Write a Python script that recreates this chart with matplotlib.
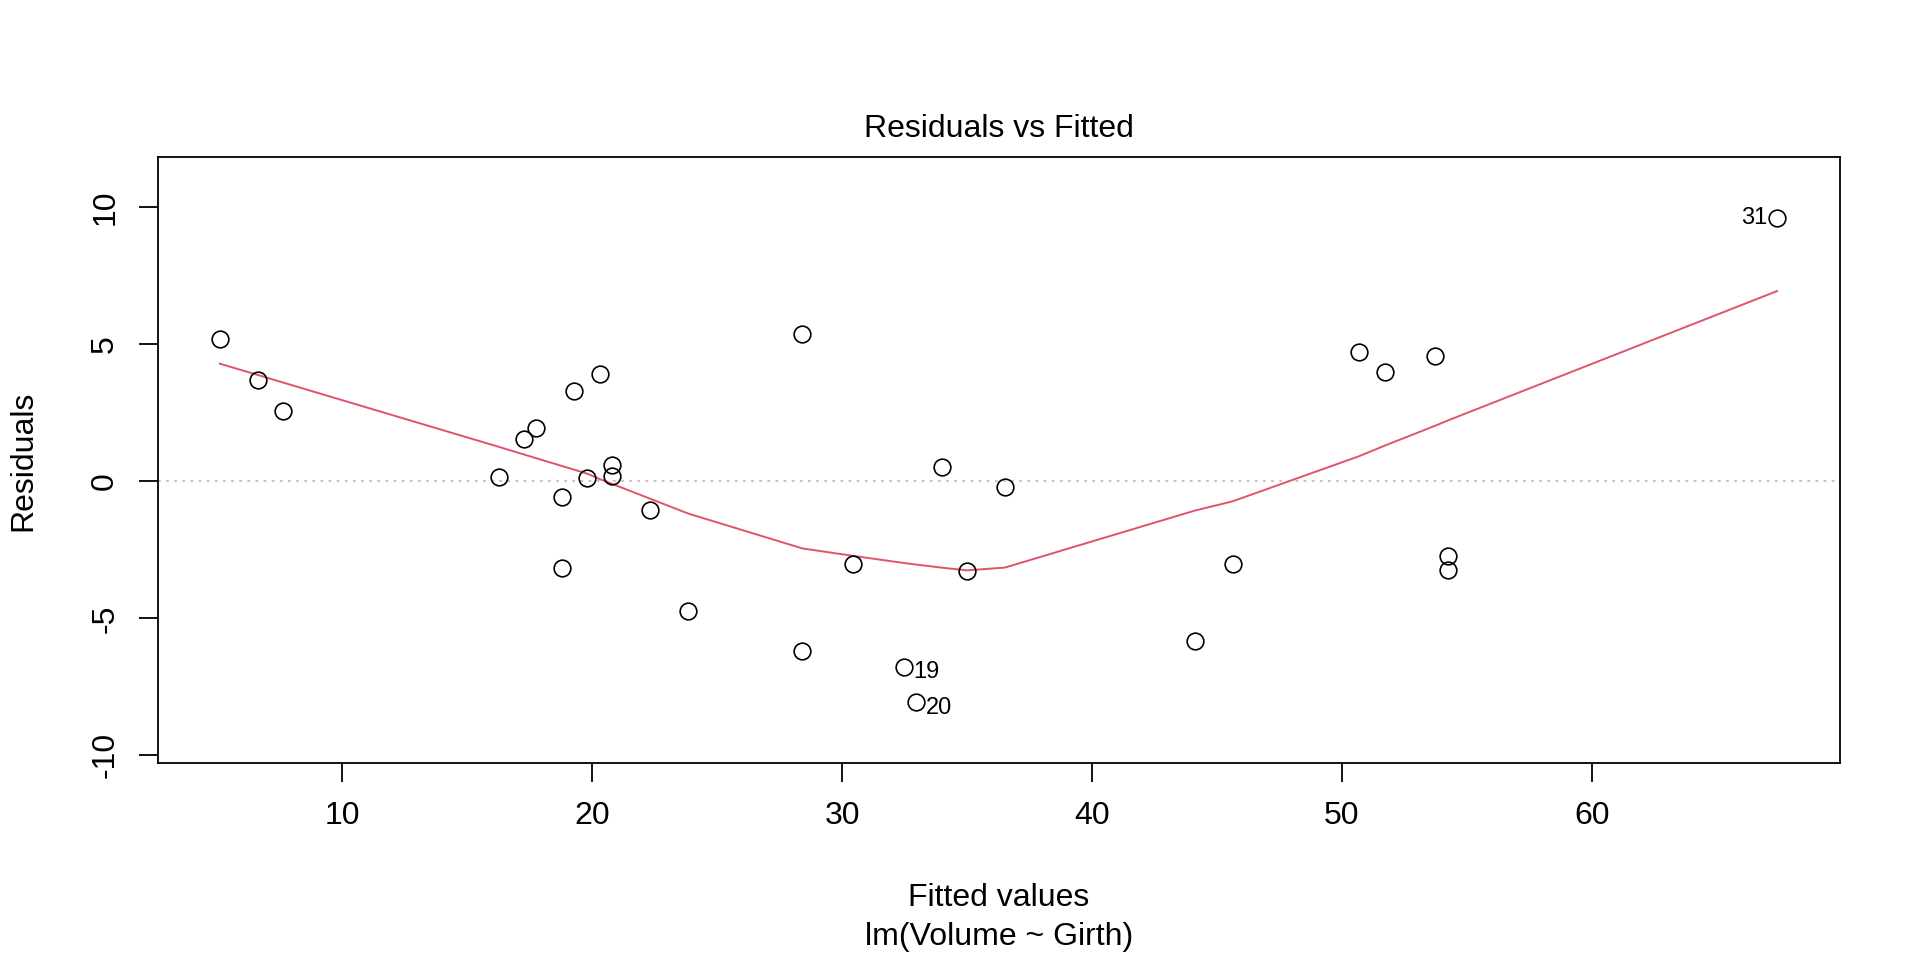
import numpy as np
import matplotlib
matplotlib.use("Agg")
import matplotlib.pyplot as plt

plt.rcParams['font.family'] = ['Liberation Sans', 'DejaVu Sans']

# lm(Volume ~ Girth) on trees: fitted values and residuals, in observation order
fitted = [5.10, 6.62, 7.64, 16.25, 17.26, 17.77, 18.78, 18.78, 19.29, 19.79,
          20.30, 20.81, 20.81, 22.33, 23.85, 28.41, 28.41, 30.43, 32.46, 32.97,
          33.98, 34.99, 36.51, 44.11, 45.63, 50.70, 51.71, 53.74, 54.24, 54.24,
          67.41]
resid = [5.20, 3.68, 2.56, 0.15, 1.54, 1.93, -3.18, -0.58, 3.31, 0.11,
         3.90, 0.19, 0.59, -1.03, -4.75, -6.21, 5.39, -3.03, -6.76, -8.07,
         0.52, -3.29, -0.21, -5.81, -3.03, 4.70, 3.99, 4.56, -2.74, -3.24,
         9.59]
labelled = [19, 20, 31]   # 1-based observation numbers

# smoother line
smooth_x = [5.10, 6.62, 7.64, 16.25, 17.26, 17.77, 18.78, 19.29, 19.79, 20.30,
            20.81, 22.33, 23.85, 28.41, 30.43, 32.46, 32.97, 33.98, 34.99, 36.51,
            44.11, 45.63, 50.70, 51.71, 53.74, 54.24, 67.41]
smooth_y = [4.29, 3.88, 3.60, 1.26, 0.98, 0.84, 0.56, 0.42, 0.28, 0.08,
            -0.10, -0.64, -1.18, -2.45, -2.72, -2.98, -3.04, -3.15, -3.25, -3.15,
            -1.07, -0.73, 0.92, 1.30, 2.03, 2.22, 6.94]

xticks = [10, 20, 30, 40, 50, 60]
yticks = [-10, -5, 0, 5, 10]

fig = plt.figure(figsize=(19.2, 9.6), dpi=100)
ax = fig.add_axes([0.0821, 0.2049, 0.8761, 0.6312])

ax.axhline(0, color='#BEBEBE', linestyle=(0, (1.5, 3)), linewidth=1.3, zorder=1)
ax.plot(smooth_x, smooth_y, color='#DF536B', linewidth=1.4, zorder=2)
ax.plot(fitted, resid, 'o', markerfacecolor='none', markeredgecolor='black',
        markersize=12, markeredgewidth=1.2, zorder=3)

xmid = 0.5 * (2.61 + 69.92)
for i in labelled:
    fx, ry = fitted[i - 1], resid[i - 1]
    if fx > xmid:
        ax.annotate(str(i), (fx, ry), xytext=(-7, 0), textcoords='offset points',
                    ha='right', va='center', fontsize=17)
    else:
        ax.annotate(str(i), (fx, ry), xytext=(7, -4), textcoords='offset points',
                    ha='left', va='center', fontsize=17)

ax.set_xlim(2.61, 69.92)
ax.set_ylim(-10.29, 11.82)
ax.set_xticks(xticks)
ax.set_yticks(yticks)
ax.set_yticklabels([str(v) for v in yticks], rotation=90, va='center')
ax.tick_params(axis='both', direction='out', length=14, width=1.3, labelsize=23)
ax.tick_params(axis='x', pad=13)
ax.tick_params(axis='y', pad=13)
for s in ax.spines.values():
    s.set_linewidth(1.3)

fig.text(0.5202, 0.866, 'Residuals vs Fitted', ha='center', va='center', fontsize=23)
fig.text(0.5202, 0.0646, 'Fitted values', ha='center', va='center', fontsize=23)
fig.text(0.5202, 0.024, 'lm(Volume ~ Girth)', ha='center', va='center', fontsize=23)
fig.text(0.0121, 0.5205, 'Residuals', ha='center', va='center', rotation=90, fontsize=23)

fig.savefig('out.png', dpi=100)
